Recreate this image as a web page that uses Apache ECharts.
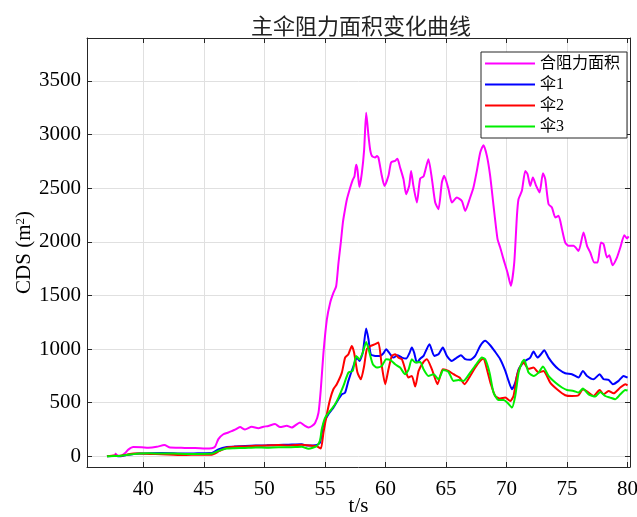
<!DOCTYPE html>
<html>
<head>
<meta charset="utf-8">
<script src="https://cdn.jsdelivr.net/npm/echarts@6/dist/echarts.min.js"></script>
<style>
  html, body { margin: 0; padding: 0; background: #fff; }
  #chart { width: 637px; height: 517px; }
</style>
</head>
<body>
<div id="chart"></div>
<script>
// Time axis (s) and drag area CDS (m^2) for the total and each canopy
const tTotal = [37.66, 37.85, 38.2, 38.5, 38.76, 39.17, 39.87, 40.41, 41.11, 41.74, 42.21, 42.89, 43.59, 44.27, 45.1, 45.65, 45.93, 46.2, 46.61, 47.02, 47.3, 47.58, 47.99, 48.4, 48.96, 49.5, 49.92, 50.33, 50.88, 51.3, 51.85, 52.26, 52.95, 53.36, 53.64, 53.9, 54.19, 54.47, 54.66, 54.88, 55.16, 55.43, 55.7, 55.93, 56.12, 56.31, 56.48, 56.61, 56.81, 57.08, 57.3, 57.44, 57.58, 57.69, 57.85, 58.05, 58.24, 58.41, 58.6, 58.75, 58.88, 59.15, 59.3, 59.42, 59.7, 59.92, 60.25, 60.47, 60.8, 60.99, 61.21, 61.49, 61.71, 61.96, 62.12, 62.31, 62.6, 62.87, 63.15, 63.55, 63.84, 64.11, 64.38, 64.66, 64.85, 65.21, 65.49, 65.9, 66.31, 66.59, 67.0, 67.27, 67.55, 67.83, 68.1, 68.38, 68.65, 68.93, 69.26, 69.48, 69.75, 70.08, 70.36, 70.64, 70.86, 70.99, 71.27, 71.55, 71.74, 71.96, 72.18, 72.45, 72.73, 73.01, 73.2, 73.47, 73.75, 74.03, 74.3, 74.58, 74.85, 75.13, 75.54, 75.95, 76.36, 76.65, 76.92, 77.25, 77.52, 77.8, 78.02, 78.3, 78.49, 78.76, 79.12, 79.4, 79.73, 79.95, 80.09];
const cdsTotal = [28, 8, 5, 30, 62, 87, 85, 80, 88, 105, 82, 80, 76, 78, 72, 75, 90, 160, 205, 222, 235, 248, 272, 250, 275, 262, 275, 283, 300, 272, 285, 268, 316, 283, 268, 280, 310, 406, 623, 964, 1274, 1430, 1523, 1585, 1802, 1989, 2175, 2268, 2392, 2501, 2578, 2609, 2718, 2671, 2510, 2640, 2857, 3203, 2988, 2850, 2801, 2786, 2800, 2786, 2615, 2521, 2615, 2740, 2755, 2775, 2693, 2584, 2444, 2521, 2661, 2521, 2366, 2590, 2610, 2770, 2584, 2366, 2304, 2553, 2615, 2490, 2366, 2413, 2381, 2288, 2413, 2506, 2661, 2833, 2901, 2801, 2615, 2335, 2024, 1947, 1838, 1714, 1589, 1807, 2242, 2397, 2475, 2661, 2630, 2521, 2600, 2521, 2460, 2640, 2584, 2351, 2320, 2227, 2242, 2118, 1993, 1962, 1962, 1915, 2087, 1962, 1900, 1807, 1807, 1993, 1978, 1853, 1875, 1782, 1853, 1947, 2062, 2031, 2050];

const tCanopy1 = [37.0, 37.6, 38.0, 38.6, 39.2, 39.7, 40.5, 41.5, 42.5, 43.5, 44.5, 45.65, 46.2, 46.9, 47.5, 48.4, 49.3, 50.2, 51.16, 52.0, 53.09, 53.5, 54.33, 54.6, 54.88, 55.29, 55.7, 56.12, 56.4, 56.67, 56.94, 57.36, 57.64, 57.85, 58.13, 58.41, 58.6, 58.79, 59.15, 59.56, 59.84, 60.06, 60.33, 60.66, 61.02, 61.36, 61.71, 61.98, 62.18, 62.37, 62.6, 62.87, 63.15, 63.64, 64.03, 64.38, 64.74, 65.07, 65.49, 65.9, 66.23, 66.59, 67.0, 67.41, 67.83, 68.24, 68.65, 69.07, 69.48, 69.9, 70.17, 70.45, 70.72, 71.0, 71.27, 71.55, 71.96, 72.23, 72.56, 72.84, 73.11, 73.47, 73.88, 74.3, 74.85, 75.4, 75.95, 76.31, 76.65, 77.19, 77.69, 78.02, 78.43, 78.79, 79.26, 79.67, 80.0];
const cdsCanopy1 = [0, 5, 0, 12, 22, 25, 28, 30, 28, 25, 28, 30, 65, 87, 90, 96, 100, 102, 105, 108, 112, 100, 105, 128, 299, 392, 454, 532, 578, 594, 703, 842, 920, 889, 967, 1191, 1091, 951, 936, 936, 961, 998, 961, 920, 942, 920, 911, 961, 1014, 967, 874, 910, 936, 1045, 936, 951, 1014, 936, 889, 920, 942, 905, 899, 936, 1029, 1076, 1035, 973, 905, 796, 703, 625, 687, 811, 858, 889, 920, 977, 920, 951, 989, 920, 858, 811, 774, 765, 734, 796, 749, 718, 765, 718, 712, 672, 703, 749, 734];

const tCanopy2 = [37.0, 37.6, 38.0, 38.6, 39.2, 39.7, 40.5, 41.5, 42.5, 43.5, 44.5, 45.65, 46.3, 46.9, 47.5, 48.4, 49.3, 50.2, 51.16, 52.0, 53.09, 53.78, 54.3, 54.66, 54.88, 55.16, 55.43, 55.7, 55.98, 56.4, 56.67, 56.94, 57.22, 57.41, 57.69, 57.97, 58.24, 58.46, 58.79, 59.15, 59.42, 59.7, 59.98, 60.25, 60.53, 60.8, 61.07, 61.36, 61.63, 61.9, 62.18, 62.46, 62.74, 63.15, 63.42, 63.84, 64.3, 64.74, 65.21, 65.62, 66.12, 66.53, 67.0, 67.41, 67.83, 68.1, 68.38, 68.71, 69.07, 69.48, 69.9, 70.31, 70.58, 70.86, 71.13, 71.4, 71.82, 72.23, 72.65, 73.06, 73.61, 74.17, 74.85, 75.4, 75.95, 76.31, 76.78, 77.19, 77.69, 78.02, 78.43, 78.84, 79.4, 79.81, 80.0];
const cdsCanopy2 = [0, 8, 3, 15, 25, 25, 22, 20, 15, 12, 15, 15, 50, 80, 88, 92, 98, 100, 105, 100, 108, 100, 95, 72, 221, 392, 532, 625, 672, 780, 920, 951, 1029, 967, 780, 718, 842, 998, 1029, 1045, 1060, 842, 672, 811, 936, 951, 920, 905, 811, 734, 749, 650, 796, 880, 905, 811, 672, 811, 796, 765, 734, 672, 749, 827, 889, 911, 811, 672, 562, 538, 547, 516, 562, 749, 835, 874, 815, 827, 780, 796, 687, 625, 569, 562, 569, 625, 594, 562, 618, 578, 609, 587, 641, 672, 662];

const tCanopy3 = [37.0, 37.6, 38.0, 38.6, 39.2, 39.7, 40.5, 41.5, 42.5, 43.5, 44.5, 45.65, 46.3, 46.9, 47.5, 48.4, 49.3, 50.2, 51.16, 52.0, 53.09, 53.64, 54.33, 54.6, 54.74, 55.02, 55.43, 55.84, 56.12, 56.53, 56.94, 57.3, 57.58, 57.85, 58.13, 58.41, 58.68, 58.96, 59.29, 59.7, 60.06, 60.39, 60.8, 61.21, 61.63, 61.9, 62.18, 62.46, 62.87, 63.15, 63.55, 63.97, 64.38, 64.79, 65.21, 65.62, 66.03, 66.45, 67.0, 67.5, 67.97, 68.24, 68.6, 68.93, 69.34, 69.75, 70.08, 70.45, 70.72, 71.0, 71.27, 71.46, 71.82, 72.23, 72.65, 73.01, 73.47, 74.03, 74.58, 74.99, 75.54, 75.95, 76.31, 76.78, 77.33, 77.74, 78.15, 78.56, 78.97, 79.4, 79.81, 80.0];
const cdsCanopy3 = [0, 3, 2, 12, 20, 25, 28, 25, 25, 22, 22, 25, 55, 72, 75, 78, 82, 80, 85, 83, 88, 70, 96, 150, 252, 361, 423, 485, 547, 656, 780, 796, 936, 905, 967, 1066, 967, 858, 827, 842, 905, 899, 858, 827, 765, 805, 905, 874, 880, 811, 749, 765, 718, 805, 786, 703, 712, 703, 780, 858, 920, 905, 780, 594, 525, 525, 500, 454, 562, 780, 874, 899, 780, 749, 780, 837, 749, 687, 641, 618, 609, 594, 631, 578, 557, 600, 562, 547, 532, 578, 618, 613];

const seriesNames = ['合阻力面积', '伞1', '伞2', '伞3'];
const seriesColors = ['#ff00ff', '#0000ff', '#ff0000', '#00ee00'];
const xTicks = [40, 45, 50, 55, 60, 65, 70, 75, 80];
const yTicks = [0, 500, 1000, 1500, 2000, 2500, 3000, 3500];

const X_MIN = 35.35, X_MAX = 80.2, Y_MIN = -100, Y_MAX = 3900;
const serif = "'Liberation Serif', 'Noto Sans CJK SC', serif";
const frameColor = '#262626';
const gridColor = '#e0e0e0';

function pairs(t, v) { return t.map((x, i) => [x, v[i]]); }

const seriesData = [
  pairs(tTotal, cdsTotal),
  pairs(tCanopy1, cdsCanopy1),
  pairs(tCanopy2, cdsCanopy2),
  pairs(tCanopy3, cdsCanopy3)
];

function valueAxis(pos, ticks, min, max, main) {
  return {
    type: 'value',
    position: pos,
    min: min,
    max: max,
    nameMoveOverlap: false,
    axisLine: { show: true, onZero: false, lineStyle: { color: frameColor, width: 1 } },
    axisTick: { show: true, inside: true, length: 5, customValues: ticks, lineStyle: { color: frameColor } },
    axisLabel: main ? {
      show: true, customValues: ticks, color: '#000', fontFamily: serif, fontSize: 21,
      margin: (pos === 'bottom' ? 12 : 6),
      formatter: (v) => String(v)
    } : { show: false },
    splitLine: { show: main, lineStyle: { color: gridColor, width: 1 } }
  };
}

const xBottom = valueAxis('bottom', xTicks, X_MIN, X_MAX, true);
xBottom.name = 't/s';
xBottom.nameLocation = 'middle';
xBottom.nameGap = 29;
xBottom.nameTextStyle = { fontFamily: serif, fontSize: 21, color: '#000' };

const yLeft = valueAxis('left', yTicks, Y_MIN, Y_MAX, true);
yLeft.name = '{a|CDS (m}{b|2}{a|)}';
yLeft.nameLocation = 'middle';
yLeft.nameGap = 52;
yLeft.nameTextStyle = {
  rich: {
    a: { fontFamily: serif, fontSize: 21, color: '#000' },
    b: { fontFamily: serif, fontSize: 13, color: '#000', verticalAlign: 'top', padding: [0, 0, 8, 0] }
  }
};

const chart = echarts.init(document.getElementById('chart'), null, { renderer: 'canvas' });
chart.setOption({
  backgroundColor: '#fff',
  animation: false,
  title: {
    text: '主伞阻力面积变化曲线',
    left: 356,
    top: 10,
    textAlign: 'center',
    textStyle: { fontFamily: "'Noto Sans CJK SC', sans-serif", fontSize: 22, fontWeight: 'normal', color: '#222' }
  },
  grid: { left: 87, right: 7, top: 38, bottom: 50, containLabel: false, outerBoundsMode: 'none' },
  legend: {
    orient: 'vertical',
    left: 481,
    top: 52,
    icon: 'rect',
    itemWidth: 50,
    itemHeight: 2,
    itemGap: 4,
    padding: [3, 7, 3, 4],
    borderColor: frameColor,
    borderWidth: 1,
    borderRadius: 0,
    backgroundColor: '#fff',
    textStyle: { fontFamily: serif, fontSize: 16, lineHeight: 17, color: '#000' },
    data: seriesNames
  },
  xAxis: [xBottom, valueAxis('top', xTicks, X_MIN, X_MAX, false)],
  yAxis: [yLeft, valueAxis('right', yTicks, Y_MIN, Y_MAX, false)],
  series: seriesNames.map((name, i) => ({
    name: name,
    type: 'line',
    xAxisIndex: 0,
    yAxisIndex: 0,
    data: seriesData[i],
    symbol: 'none',
    smooth: 0.2,
    lineStyle: { color: seriesColors[i], width: 2 },
    itemStyle: { color: seriesColors[i] },
    z: 2 + i
  }))
});
</script>
</body>
</html>
